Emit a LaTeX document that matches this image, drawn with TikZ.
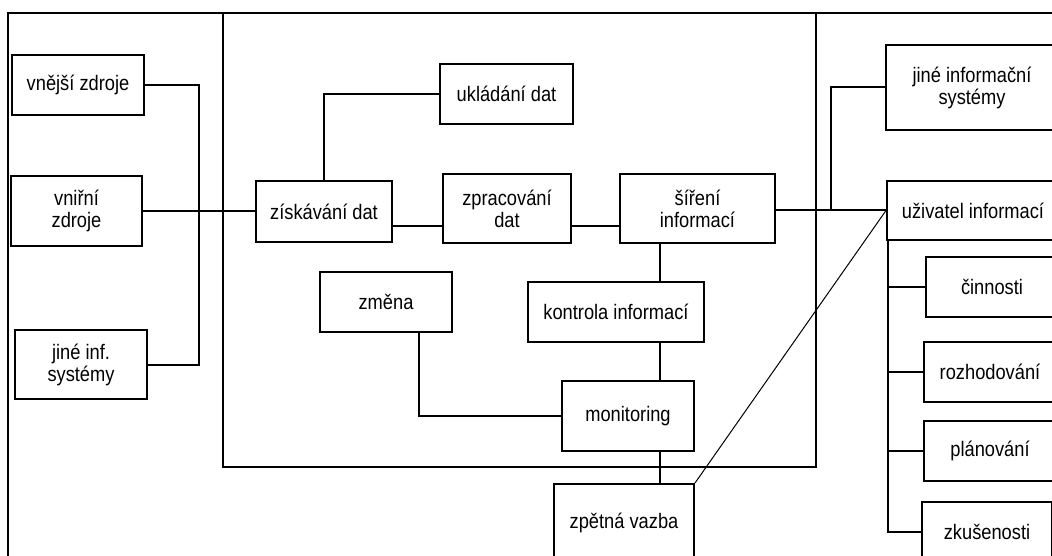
\documentclass[tikz,border=0pt]{standalone}
\usepackage{fontspec}
\setmainfont{Liberation Sans}[FakeStretch=0.87]
\begin{document}
\begin{tikzpicture}[x=1pt,y=-1pt,
  box/.style={draw, line width=2pt, fill=white, rectangle, align=center,
    inner sep=0pt, font=\fontsize{21}{22}\selectfont},
  link/.style={line width=2pt},
  frame/.style={line width=1.3pt},
  thin/.style={line width=1pt}]
\useasboundingbox (0,0) rectangle (1052,556);
\fill[white] (0,0) rectangle (1052,556);
\clip (0,0) rectangle (1052,556);

% outer frame and the information-system boundary
\draw[frame] (8,13) rectangle (1070,575);
\draw[line width=2.2pt] (223,13) rectangle (816,467);

% sources
\node[box, minimum width=132, minimum height=60] (vnejsi) at (78,85) {vnější zdroje};
\node[box, minimum width=131, minimum height=69] (vnitrni) at (76.5,211) {vniřní\\zdroje};
\node[box, minimum width=132, minimum height=69] (jineinf) at (81,364.5) {jiné inf.\\systémy};

% processing inside the system
\node[box, minimum width=136, minimum height=61] (ziskavani) at (324,211.5) {získávání dat};
\node[box, minimum width=133, minimum height=60] (ukladani) at (506.5,94) {ukládání dat};
\node[box, minimum width=128, minimum height=69] (zpracovani) at (507,208.5) {zpracování\\dat};
\node[box, minimum width=155, minimum height=69] (sireni) at (697.5,208.5) {šíření\\informací};
\node[box, minimum width=132, minimum height=60] (zmena) at (386,302) {změna};
\node[box, minimum width=176, minimum height=60] (kontrola) at (616,312) {kontrola informací};
\node[box, minimum width=132, minimum height=70] (monitoring) at (628,416) {monitoring};
\node[box, minimum width=140, minimum height=78] (zpetna) at (624,523) {zpětná vazba};

% recipients
\node[box, minimum width=172, minimum height=85] (jineis) at (972,87.5) {jiné informační\\systémy};
\node[box, minimum width=172, minimum height=59] (uzivatel) at (973,210.5) {uživatel informací};
\node[box, minimum width=132, minimum height=60] (cinnosti) at (992,287) {činnosti};
\node[box, minimum width=132, minimum height=60] (rozhodovani) at (990,372) {rozhodování};
\node[box, minimum width=132, minimum height=60] (planovani) at (990,451) {plánování};
\node[box, minimum width=130, minimum height=60] (zkusenosti) at (987,532) {zkušenosti};

% helper coordinates for the routed lines
\coordinate (lbus) at (199,200);
\coordinate (lowrow) at (0,226);
\coordinate (rbus) at (831,210);
\coordinate (vx) at (660,0);
\coordinate (zx) at (419,0);
\coordinate (ubus) at (888,0);

% source connections
\draw[link] (vnejsi.east) -| (lbus) |- (jineinf.east);
\draw[link] (vnitrni.east) -- (vnitrni.east -| ziskavani.west);

% processing chain
\draw[link] (ziskavani.north) |- (ukladani.west);
\draw[link] (ziskavani.east |- lowrow) -- (zpracovani.west |- lowrow);
\draw[link] (zpracovani.east |- lowrow) -- (sireni.west |- lowrow);
\draw[link] (sireni.east |- rbus) -- (uzivatel.west |- rbus);
\draw[link] (rbus) |- (jineis.west);

% control loop
\draw[link] (sireni.south -| vx) -- (kontrola.north -| vx);
\draw[link] (kontrola.south -| vx) -- (monitoring.north -| vx);
\draw[link] (monitoring.south -| vx) -- (zpetna.north -| vx);
\draw[link] (zmena.south -| zx) |- (monitoring.west);

% feedback to the user
\draw[thin] (uzivatel.west) -- (zpetna.north east);

% user activities
\draw[link] (uzivatel.south -| ubus) -- (zkusenosti.west -| ubus) -- (zkusenosti.west);
\draw[link] (cinnosti.west -| ubus) -- (cinnosti.west);
\draw[link] (rozhodovani.west -| ubus) -- (rozhodovani.west);
\draw[link] (planovani.west -| ubus) -- (planovani.west);
\end{tikzpicture}
\end{document}
